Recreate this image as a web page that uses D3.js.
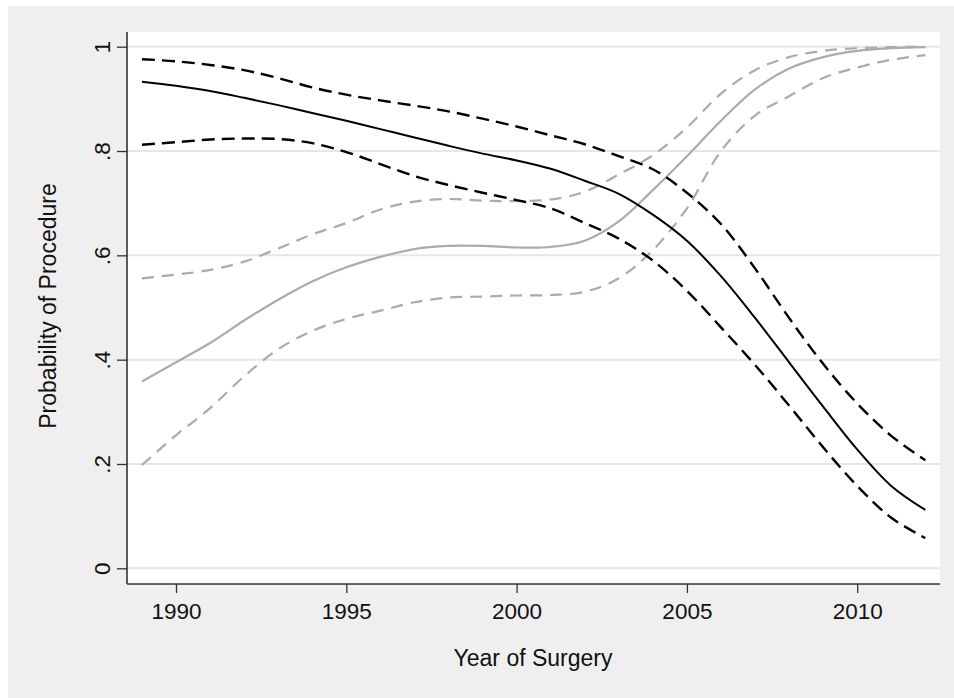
<!DOCTYPE html>
<html>
<head>
<meta charset="utf-8">
<script src="https://cdn.jsdelivr.net/npm/d3@7"></script>
<style>
  html, body { margin: 0; padding: 0; background: #ffffff; }
  svg { display: block; }
  text { font-family: "Liberation Sans", Arial, Helvetica, sans-serif; fill: #111; }
</style>
</head>
<body>
<svg id="chart" width="954" height="698"></svg>
<script>
// ---- Data ----
const years = [1989,1990,1991,1992,1993,1994,1995,1996,1997,1998,1999,2000,2001,2002,2003,2004,2005,2006,2007,2008,2009,2010,2011,2012];

// Black series (estimate with CI)
const blackMid   = [0.933,0.925,0.915,0.902,0.888,0.873,0.858,0.842,0.826,0.810,0.795,0.782,0.766,0.743,0.718,0.678,0.628,0.560,0.480,0.395,0.310,0.228,0.158,0.112];
const blackUpper = [0.976,0.972,0.965,0.955,0.940,0.922,0.908,0.897,0.887,0.876,0.862,0.847,0.830,0.813,0.790,0.765,0.720,0.660,0.575,0.480,0.392,0.316,0.254,0.207];
const blackLower = [0.812,0.817,0.822,0.824,0.823,0.815,0.798,0.775,0.752,0.735,0.720,0.706,0.690,0.662,0.632,0.590,0.532,0.462,0.390,0.312,0.232,0.158,0.097,0.058];

// Gray series (estimate with CI)
const grayMid    = [0.358,0.395,0.432,0.475,0.515,0.550,0.577,0.597,0.612,0.618,0.618,0.615,0.616,0.628,0.665,0.725,0.790,0.858,0.918,0.958,0.980,0.992,0.997,0.999];
const grayUpper  = [0.556,0.563,0.572,0.588,0.613,0.640,0.662,0.688,0.703,0.708,0.705,0.704,0.707,0.722,0.755,0.792,0.845,0.910,0.955,0.980,0.992,0.997,0.999,1.000];
const grayLower  = [0.198,0.255,0.307,0.368,0.420,0.455,0.478,0.494,0.510,0.519,0.521,0.523,0.524,0.530,0.556,0.610,0.690,0.800,0.868,0.905,0.940,0.960,0.975,0.984];

const xTicks = [1990,1995,2000,2005,2010];
const yTicks = [0,0.2,0.4,0.6,0.8,1];
const yTickLabels = ["0",".2",".4",".6",".8","1"];
const xTitle = "Year of Surgery";
const yTitle = "Probability of Procedure";

// ---- Layout ----
const svg = d3.select("#chart");
const plotL = 127, plotR = 940, plotT = 32, plotB = 584;

const x = d3.scaleLinear().domain([1990, 2010]).range([176, 857.2]);
const y = d3.scaleLinear().domain([0, 1]).range([568.3, 46.7]);

// outer graph region
svg.append("rect").attr("x", 8).attr("y", 6).attr("width", 954 - 8).attr("height", 698 - 6).attr("fill", "#efefef");
// plot region
svg.append("rect").attr("x", plotL).attr("y", plotT).attr("width", plotR - plotL).attr("height", plotB - plotT).attr("fill", "#ffffff");

// gridlines
svg.append("g").selectAll("line").data(yTicks).join("line")
  .attr("x1", plotL).attr("x2", plotR)
  .attr("y1", d => y(d)).attr("y2", d => y(d))
  .attr("stroke", "#e6e6e6").attr("stroke-width", 2);

// axes
const yAxis = d3.axisLeft(y).tickValues(yTicks).tickSize(10).tickPadding(7)
  .tickFormat((d, i) => yTickLabels[i]);
const gy = svg.append("g").attr("transform", `translate(${plotL},0)`).call(yAxis);
gy.select(".domain").attr("d", `M0,${plotT}V${plotB}`).attr("stroke", "#333").attr("stroke-width", 1.6);
gy.selectAll(".tick line").attr("stroke", "#333").attr("stroke-width", 1.3);
gy.selectAll(".tick text")
  .attr("font-size", 22.5).attr("fill", "#111")
  .attr("text-anchor", "middle")
  .attr("dy", null)
  .attr("x", null)
  .attr("transform", "translate(-17,0) rotate(-90)")
  .attr("y", 0);

const xAxis = d3.axisBottom(x).tickValues(xTicks).tickSize(9).tickPadding(10).tickFormat(d3.format("d"));
const gx = svg.append("g").attr("transform", `translate(0,${plotB})`).call(xAxis);
gx.select(".domain").attr("d", `M${plotL},0H${plotR}`).attr("stroke", "#333").attr("stroke-width", 1.6);
gx.selectAll(".tick line").attr("stroke", "#333").attr("stroke-width", 1.3);
gx.selectAll(".tick text").attr("font-size", 22.5).attr("fill", "#111").attr("dy", null).attr("y", 35);

// axis titles
svg.append("text").attr("x", 533).attr("y", 666).attr("text-anchor", "middle")
  .attr("font-size", 23).text(xTitle);
svg.append("text").attr("transform", "translate(56,306) rotate(-90)").attr("text-anchor", "middle")
  .attr("font-size", 23).text(yTitle);

// lines
const line = d3.line().x(d => x(d[0])).y(d => y(d[1])).curve(d3.curveCatmullRom.alpha(0.5));
const series = [
  { v: grayUpper,  color: "#ababab", w: 2.2, dash: "12,8" },
  { v: grayLower,  color: "#ababab", w: 2.2, dash: "12,8" },
  { v: grayMid,    color: "#ababab", w: 2.2, dash: null },
  { v: blackUpper, color: "#000000", w: 2.4, dash: "13,7" },
  { v: blackLower, color: "#000000", w: 2.4, dash: "13,7" },
  { v: blackMid,   color: "#000000", w: 2.0, dash: null }
];
svg.append("g").selectAll("path").data(series).join("path")
  .attr("d", s => line(years.map((yr, i) => [yr, s.v[i]])))
  .attr("fill", "none")
  .attr("stroke", s => s.color)
  .attr("stroke-width", s => s.w)
  .attr("stroke-dasharray", s => s.dash);
</script>
</body>
</html>
